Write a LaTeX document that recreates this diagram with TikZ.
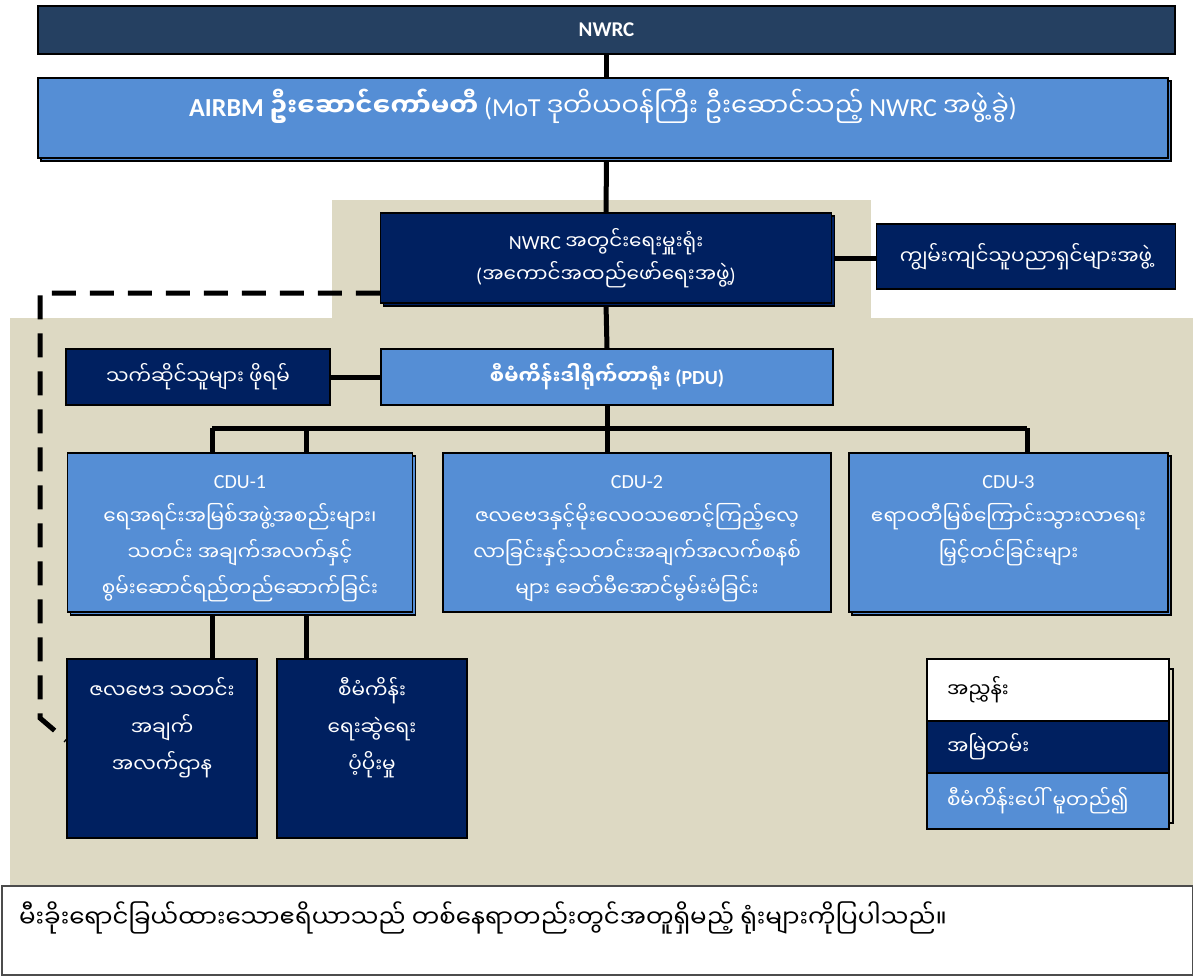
\documentclass[tikz,border=0pt]{standalone}
\usepackage{fontspec}
\setmainfont{Carlito}
\newfontfamily\mm[Script=Myanmar]{Noto Sans Myanmar UI}
\usetikzlibrary{shadows}

\definecolor{topblue}{HTML}{254061}
\definecolor{midblue}{HTML}{558ED5}
\definecolor{navy}{HTML}{002060}
\definecolor{sand}{HTML}{DDD9C3}

\pgfdeclarelayer{back}
\pgfdeclarelayer{wires}
\pgfsetlayers{back,wires,main}

\tikzset{
	box/.style={draw=black, line width=1.5pt, inner sep=0pt, text=white, align=center,
		font=\fontsize{20}{36}\selectfont},
	navybox/.style={box, fill=navy},
	bluebox/.style={box, fill=midblue},
	stacked/.style={copy shadow={shadow xshift=3pt, shadow yshift=-3pt}},
	intext/.style={anchor=north, align=center, text=white, inner sep=0pt,
		font=\fontsize{20}{36}\selectfont},
	link/.style={line width=5pt},
	dashlink/.style={line width=5pt, dash pattern=on 24pt off 14pt},
}

\begin{document}
\begin{tikzpicture}[x=1pt,y=-1pt]
	\useasboundingbox (0,0) rectangle (1193,975);

	% shared office area
	\begin{pgfonlayer}{back}
		\fill[sand] (332,200) rectangle (871,320);
		\fill[sand] (10,318) rectangle (1193,885);
	\end{pgfonlayer}

	% top of the structure
	\node[box, fill=topblue, minimum width=1137pt, minimum height=48pt,
		font=\fontsize{21}{24}\selectfont\bfseries] (nwrc) at (606.5,30) {NWRC};
	\node[bluebox, stacked, minimum width=1130pt, minimum height=80pt,
		label={[intext, yshift=-12pt, font=\fontsize{26}{30}\selectfont]north:{\textbf{AIRBM {\mm ဦးဆောင်ကော်မတီ}} (MoT {\mm ဒုတိယဝန်ကြီး ဦးဆောင်သည့်} NWRC {\mm အဖွဲ့ခွဲ})}}]
		(airbm) at (603,118) {};

	\node[navybox, stacked, minimum width=451pt, minimum height=90pt, font=\fontsize{20}{33}\selectfont]
		(secr) at (606,258) {NWRC {\mm အတွင်းရေးမှူးရုံး}\\({\mm အကောင်အထည်ဖော်ရေးအဖွဲ့})};
	\node[navybox, minimum width=299pt, minimum height=65pt]
		(expert) at (1026,256.5) {\mm ကျွမ်းကျင်သူပညာရှင်များအဖွဲ့};

	\node[navybox, minimum width=264pt, minimum height=56pt]
		(forum) at (198,377) {\mm သက်ဆိုင်သူများ ဖိုရမ်};
	\node[bluebox, minimum width=452pt, minimum height=56pt, font=\fontsize{20}{24}\selectfont\bfseries]
		(pdu) at (607,377) {{\mm စီမံကိန်းဒါရိုက်တာရုံး} (PDU)};

	% component units
	\node[bluebox, stacked, minimum width=345pt, minimum height=159pt,
		label={[intext, yshift=-23pt]north:{CDU-1\\{\mm ရေအရင်းအမြစ်အဖွဲ့အစည်းများ၊}\\{\mm သတင်း အချက်အလက်နှင့်}\\{\mm စွမ်းဆောင်ရည်တည်ဆောက်ခြင်း}}}]
		(cdu1) at (240,532.5) {};
	\node[bluebox, minimum width=388pt, minimum height=159pt,
		label={[intext, yshift=-23pt]north:{CDU-2\\{\mm ဇလဗေဒနှင့်မိုးလေဝသစောင့်ကြည့်လေ့}\\{\mm လာခြင်းနှင့်သတင်းအချက်အလက်စနစ်}\\{\mm များ ခေတ်မီအောင်မွမ်းမံခြင်း}}}]
		(cdu2) at (637,532.5) {};
	\node[bluebox, stacked, minimum width=319pt, minimum height=159pt,
		label={[intext, yshift=-23pt]north:{CDU-3\\{\mm ဧရာဝတီမြစ်ကြောင်းသွားလာရေး}\\{\mm မြှင့်တင်ခြင်းများ}}}]
		(cdu3) at (1008.5,532.5) {};

	\node[navybox, minimum width=190pt, minimum height=179pt,
		label={[intext, yshift=-19pt, font=\fontsize{20}{37}\selectfont]north:{\mm ဇလဗေဒ သတင်း\\\mm အချက်\\\mm အလက်ဌာန}}]
		(hydro) at (162,748.5) {};
	\node[navybox, minimum width=190pt, minimum height=179pt,
		label={[intext, yshift=-19pt, font=\fontsize{20}{37}\selectfont]north:{\mm စီမံကိန်း\\\mm ရေးဆွဲရေး\\\mm ပံ့ပိုးမှု}}]
		(plan) at (372,748.5) {};

	% legend
	\draw[fill=sand, line width=1.5pt] (935,669) rectangle (1173,823);
	\node[box, fill=white, text=black, minimum width=242pt, minimum height=62pt,
		text width=202pt, align=left] (key) at (1048,690) {\mm အညွှန်း};
	\node[navybox, minimum width=242pt, minimum height=52pt,
		text width=202pt, align=left] (keynavy) at (1048,747) {\mm အမြဲတမ်း};
	\node[bluebox, minimum width=242pt, minimum height=56pt,
		text width=202pt, align=left] (keyblue) at (1048,801) {\mm စီမံကိန်းပေါ် မူတည်၍};

	% note
	\node[draw=black!70, fill=white, line width=1.5pt, minimum width=1191pt, minimum height=89pt,
		inner sep=0pt, anchor=north west,
		label={[anchor=west, xshift=18pt, yshift=12pt, inner sep=0pt, font=\fontsize{24.5}{28}\selectfont]west:{\mm မီးခိုးရောင်ခြယ်ထားသောဧရိယာသည် တစ်နေရာတည်းတွင်အတူရှိမည့် ရုံးများကိုပြပါသည်။}}]
		(note) at (1,885) {};

	% connectors
	\coordinate (busL) at (212,428);
	\coordinate (busM) at (306,428);
	\coordinate (busR) at (1027,428);
	\coordinate (dtop) at (40,293);
	\coordinate (dbot) at (40,718);
	\begin{pgfonlayer}{wires}
		\draw[link] (nwrc.south) -- (nwrc.south |- airbm.north);
		\draw[link] (nwrc.south |- airbm.south) -- (secr.north);
		\draw[link] (secr.east) -- (secr.east -| expert.west);
		\draw[link] (secr.south) -- (pdu.north);
		\draw[link] (forum.east) -- (pdu.west);
		\draw[link] (pdu.south) -- (pdu.south |- cdu2.north);
		\draw[link] (busL) -- (busR);
		\draw[link] (busL) -- (busL |- hydro.north);
		\draw[link] (busM) -- (busM |- plan.north);
		\draw[link] (busR) -- (busR |- cdu3.north);
		\draw[dashlink] ([yshift=-35pt]secr.west) -- (dtop) -- (dbot) -- ([yshift=8pt]hydro.west);
	\end{pgfonlayer}
\end{tikzpicture}
\end{document}
